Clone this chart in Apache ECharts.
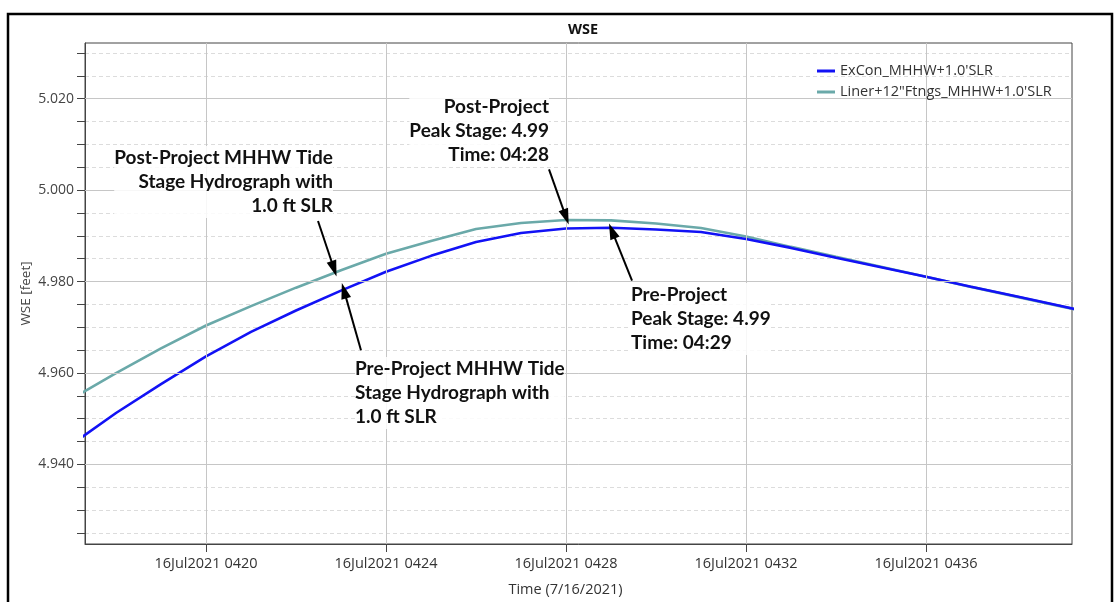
<!DOCTYPE html>
<html>
<head>
<meta charset="utf-8">
<script src="https://cdn.jsdelivr.net/npm/echarts@6/dist/echarts.min.js"></script>
<style>
html,body{margin:0;padding:0;background:#fff;}
#chart{width:1115px;height:602px;}
</style>
</head>
<body>
<div id="chart"></div>
<script>
// Time in minutes after 04:00 on 16Jul2021
const minutes = [17,18,19,20,21,22,23,24,25,26,27,28,29,30,31,32,33,34,35,36,37,38,39,40];
// ExCon_MHHW+1.0'SLR (pre-project)
const exconWSE = [4.94428,4.95124,4.95755,4.96365,4.96898,4.97366,4.97801,4.98214,4.98562,4.98867,4.99063,4.99161,4.99178,4.99139,4.99084,4.98932,4.98736,4.98519,4.98312,4.98105,4.97888,4.97677,4.97463,4.97257];
// Liner+12"Ftngs_MHHW+1.0'SLR (post-project)
const linerWSE = [4.95429,4.95995,4.96539,4.97039,4.97463,4.97866,4.98247,4.98606,4.98889,4.99150,4.99280,4.99346,4.99339,4.99269,4.99171,4.98987,4.98758,4.98540,4.98323,4.98105,4.97883,4.97670,4.97457,4.97246];
const seriesNames = ["ExCon_MHHW+1.0'SLR", "Liner+12\"Ftngs_MHHW+1.0'SLR"];
const xTickMinutes = [20,24,28,32,36];
const yMajorTicks = [4.94,4.96,4.98,5.00,5.02];
const yMinorTicks = [4.925,4.930,4.935,4.940,4.945,4.950,4.955,4.960,4.965,4.970,4.975,4.980,4.985,4.990,4.995,5.000,5.005,5.010,5.015,5.020,5.025,5.030];
const xRange = [17.311, 39.244];
const yRange = [4.92259, 5.03218];

// annotation arrows: [tailX, tailY, headX, headY] in data units
const arrowPostTide = [22.489, 4.99324, 22.844, 4.98279];
const arrowPreTide  = [23.444, 4.96495, 23.067, 4.97801];
const arrowPostPeak = [27.622, 5.00455, 28.000, 4.99411];
const arrowPrePeak  = [29.467, 4.98018, 29.022, 4.99106];
const arrows = [arrowPostTide, arrowPreTide, arrowPostPeak, arrowPrePeak];

const noteFont = 'bold 19px Lato, "Open Sans", sans-serif';
const noteBg = 'rgba(255,255,255,0.85)';
const uiFont = '"Open Sans", sans-serif';

const chart = echarts.init(document.getElementById('chart'), null, {renderer: 'canvas'});

function pad2(v){ v = Math.round(v); return (v < 10 ? '0' : '') + v; }

const option = {
  animation: false,
  backgroundColor: '#fff',
  title: {
    text: 'WSE',
    left: 578, top: 17, textAlign: 'center',
    textStyle: {fontFamily: uiFont, fontWeight: 'bold', fontSize: 14.5, color: '#111'}
  },
  legend: {
    orient: 'vertical',
    left: 817, top: 62, z: 20, padding: 0,
    itemWidth: 18, itemHeight: 3, itemGap: 3,
    icon: 'rect',
    data: seriesNames,
    textStyle: {fontFamily: uiFont, fontSize: 14.5, color: '#333', lineHeight: 18, height: 18, overflow: 'none'}
  },
  grid: {
    left: 85, right: 43, top: 43, bottom: 55,
    show: true, borderColor: '#444', borderWidth: 1, containLabel: false
  },
  xAxis: {
    type: 'value',
    min: xRange[0], max: xRange[1],
    name: 'Time (7/16/2021)',
    nameLocation: 'middle', nameGap: 38, nameMoveOverlap: false,
    nameTextStyle: {fontFamily: uiFont, fontSize: 14.5, color: '#333', padding: [0, 26, 0, 0]},
    axisLine: {show: true, lineStyle: {color: '#444'}},
    axisTick: {show: true, length: 8, lineStyle: {color: '#444'}, customValues: xTickMinutes},
    axisLabel: {
      customValues: xTickMinutes, margin: 12,
      fontFamily: uiFont, fontSize: 14.5, color: '#333',
      formatter: function(v){ return '16Jul2021 04' + pad2(v); }
    },
    splitLine: {show: false}
  },
  yAxis: {
    type: 'value',
    min: yRange[0], max: yRange[1],
    name: 'WSE [feet]',
    nameLocation: 'middle', nameGap: 52, nameRotate: 90, nameMoveOverlap: false,
    nameTextStyle: {fontFamily: uiFont, fontSize: 13.5, color: '#444'},
    axisLine: {show: true, lineStyle: {color: '#444'}},
    axisTick: {show: true, length: 8, lineStyle: {color: '#444'}, customValues: yMinorTicks},
    axisLabel: {
      customValues: yMajorTicks,
      margin: 11, fontFamily: uiFont, fontSize: 14, color: '#444',
      formatter: function(v){ return Number(v).toFixed(3); }
    },
    splitLine: {show: true, lineStyle: {color: '#dcdcdc', type: [4, 3], width: 1}}
  },
  series: [
    {
      name: 'majorGrid', type: 'line', data: [], z: 1, silent: true,
      markLine: {
        silent: true, symbol: ['none', 'none'], label: {show: false},
        lineStyle: {color: '#c6c6c6', type: 'solid', width: 1},
        emphasis: {disabled: true},
        data: xTickMinutes.map(v => ({xAxis: v})).concat(yMajorTicks.map(v => ({yAxis: v})))
      }
    },
    {
      name: seriesNames[0], type: 'line', z: 3,
      data: minutes.map((m, i) => [m, exconWSE[i]]),
      showSymbol: false, symbol: 'none', clip: true,
      lineStyle: {color: '#1212f5', width: 2.6},
      itemStyle: {color: '#1212f5'}
    },
    {
      name: seriesNames[1], type: 'line', z: 2,
      data: minutes.map((m, i) => [m, linerWSE[i]]),
      showSymbol: false, symbol: 'none', clip: true,
      lineStyle: {color: '#6aa9a9', width: 2.6},
      itemStyle: {color: '#6aa9a9'}
    },
    {
      name: 'arrows', type: 'line', data: [], z: 6, silent: true,
      markLine: {
        silent: true, symbol: ['none', 'triangle'], symbolSize: [10, 16],
        label: {show: false},
        lineStyle: {color: '#000', type: 'solid', width: 2},
        itemStyle: {color: '#000'},
        emphasis: {disabled: true},
        data: arrows.map(a => [{coord: [a[0], a[1]]}, {coord: [a[2], a[3]]}])
      }
    }
  ],
  graphic: [
    {type: 'rect', z: 100, silent: true, shape: {x: 8, y: 14, width: 1104, height: 600},
     style: {fill: 'none', stroke: '#000', lineWidth: 2.5}},
    {type: 'text', z: 90, x: 333, y: 146, silent: true,
     style: {text: 'Post-Project MHHW Tide\nStage Hydrograph with\n1.0 ft SLR', align: 'right', verticalAlign: 'top',
             font: noteFont, lineHeight: 24, fill: '#111', backgroundColor: noteBg}},
    {type: 'text', z: 90, x: 549, y: 95, silent: true,
     style: {text: 'Post-Project\nPeak Stage: 4.99\nTime: 04:28', align: 'right', verticalAlign: 'top',
             font: noteFont, lineHeight: 24, fill: '#111', backgroundColor: noteBg}},
    {type: 'text', z: 90, x: 631, y: 283, silent: true,
     style: {text: 'Pre-Project\nPeak Stage: 4.99\nTime: 04:29', align: 'left', verticalAlign: 'top',
             font: noteFont, lineHeight: 24, fill: '#111', backgroundColor: noteBg}},
    {type: 'text', z: 90, x: 355, y: 357, silent: true,
     style: {text: 'Pre-Project MHHW Tide\nStage Hydrograph with\n1.0 ft SLR', align: 'left', verticalAlign: 'top',
             font: noteFont, lineHeight: 24, fill: '#111', backgroundColor: noteBg}}
  ]
};
chart.setOption(option);
</script>
</body>
</html>
